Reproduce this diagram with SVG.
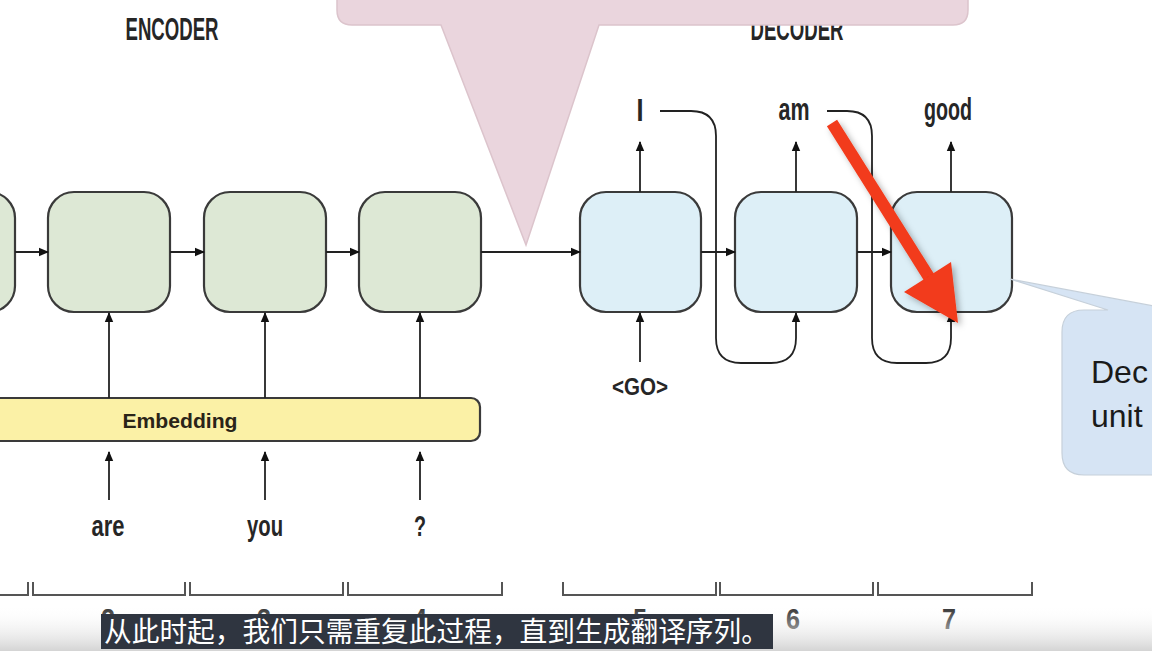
<svg xmlns="http://www.w3.org/2000/svg" width="1152" height="651" viewBox="0 0 1152 651">
<defs>
<style>
.enc{fill:#dde8d5;stroke:#3a3a3a;stroke-width:2.2}
.dec{fill:#ddeff7;stroke:#3a3a3a;stroke-width:2.2}
.ln{fill:none;stroke:#222;stroke-width:1.8}
.lbl{font-family:"Liberation Sans Narrow","Liberation Sans",sans-serif;fill:#262626;text-anchor:middle;font-weight:bold}
.num{font-family:"Liberation Sans Narrow","Liberation Sans",sans-serif;fill:#2a2a2a;text-anchor:middle;font-size:30px;font-weight:bold}
.brk{fill:none;stroke:#555;stroke-width:2}
</style>
<marker id="ah" markerUnits="userSpaceOnUse" markerWidth="10" markerHeight="10" viewBox="0 0 10 10" refX="9" refY="5" orient="auto">
<path d="M0,0.8 L10,5 L0,9.2 Z" fill="#111"/>
</marker>
<linearGradient id="fade" x1="0" y1="0" x2="0" y2="1">
<stop offset="0" stop-color="#ffffff" stop-opacity="0"/>
<stop offset="1" stop-color="#d4d4d4" stop-opacity="1"/>
</linearGradient>
<filter id="sh" x="-20%" y="-20%" width="140%" height="140%">
<feDropShadow dx="3" dy="3" stdDeviation="3" flood-color="#000" flood-opacity="0.3"/>
</filter>
</defs>
<rect width="1152" height="651" fill="#fff"/>

<g id="titles">
<text class="lbl" x="172" y="40" font-size="32" textLength="93" lengthAdjust="spacingAndGlyphs">ENCODER</text>
<text class="lbl" x="797" y="40" font-size="32" textLength="93" lengthAdjust="spacingAndGlyphs">DECODER</text>
</g>

<g id="embedding">
<rect x="-20" y="398" width="500" height="43" rx="9" fill="#fbf1a6" stroke="#3a3a3a" stroke-width="2.2"/>
<text x="180" y="428" font-family="Liberation Sans,sans-serif" font-weight="bold" font-size="21" fill="#2a2418" text-anchor="middle" textLength="115" lengthAdjust="spacingAndGlyphs">Embedding</text>
</g>

<g id="enc1"><rect class="enc" x="-107" y="192" width="122" height="120" rx="26"/></g>
<g id="enc2"><rect class="enc" x="48" y="192" width="122" height="120" rx="26"/></g>
<g id="enc3"><rect class="enc" x="204" y="192" width="122" height="120" rx="26"/></g>
<g id="enc4"><rect class="enc" x="359" y="192" width="122" height="120" rx="26"/></g>
<g id="dec5"><rect class="dec" x="580" y="192" width="121" height="120" rx="26"/></g>
<g id="dec6"><rect class="dec" x="735" y="192" width="122" height="120" rx="26"/></g>
<g id="dec7"><rect class="dec" x="891" y="192" width="121" height="120" rx="26"/></g>

<g id="connectors">
<line class="ln" x1="15" y1="252" x2="48" y2="252" marker-end="url(#ah)"/>
<line class="ln" x1="170" y1="252" x2="204" y2="252" marker-end="url(#ah)"/>
<line class="ln" x1="326" y1="252" x2="359" y2="252" marker-end="url(#ah)"/>
<line class="ln" x1="481" y1="252" x2="580" y2="252" marker-end="url(#ah)"/>
<line class="ln" x1="701" y1="252" x2="735" y2="252" marker-end="url(#ah)"/>
<line class="ln" x1="857" y1="252" x2="891" y2="252" marker-end="url(#ah)"/>
<line class="ln" x1="109" y1="398" x2="109" y2="313" marker-end="url(#ah)"/>
<line class="ln" x1="265" y1="398" x2="265" y2="313" marker-end="url(#ah)"/>
<line class="ln" x1="420" y1="398" x2="420" y2="313" marker-end="url(#ah)"/>
<line class="ln" x1="109" y1="500" x2="109" y2="452" marker-end="url(#ah)"/>
<line class="ln" x1="265" y1="500" x2="265" y2="452" marker-end="url(#ah)"/>
<line class="ln" x1="420" y1="500" x2="420" y2="452" marker-end="url(#ah)"/>
<line class="ln" x1="640" y1="192" x2="640" y2="142" marker-end="url(#ah)"/>
<line class="ln" x1="796" y1="192" x2="796" y2="142" marker-end="url(#ah)"/>
<line class="ln" x1="951" y1="192" x2="951" y2="142" marker-end="url(#ah)"/>
<line class="ln" x1="640" y1="362" x2="640" y2="313" marker-end="url(#ah)"/>
<path class="ln" d="M660 111 H691 Q716 111 716 136 V338 Q716 363 741 363 H771 Q796 363 796 338 V313" marker-end="url(#ah)"/>
<path class="ln" d="M827 111 H847 Q872 111 872 136 V338 Q872 363 897 363 H926 Q951 363 951 338 V313" marker-end="url(#ah)"/>
</g>

<g id="labels">
<text class="lbl" x="640" y="121" font-size="32" textLength="7" lengthAdjust="spacingAndGlyphs">I</text>
<text class="lbl" x="794" y="120" font-size="32" textLength="31" lengthAdjust="spacingAndGlyphs">am</text>
<text class="lbl" x="948" y="120" font-size="32" textLength="48" lengthAdjust="spacingAndGlyphs">good</text>
<text class="lbl" x="640" y="395" font-size="24" textLength="56" lengthAdjust="spacingAndGlyphs">&lt;GO&gt;</text>
<text class="lbl" x="108" y="536" font-size="30" textLength="33" lengthAdjust="spacingAndGlyphs">are</text>
<text class="lbl" x="265" y="536" font-size="30" textLength="36" lengthAdjust="spacingAndGlyphs">you</text>
<text class="lbl" x="420" y="536" font-size="30" textLength="12" lengthAdjust="spacingAndGlyphs">?</text>
</g>

<g id="callout-top">
<path d="M337 -20 H968 V10 Q968 25 953 25 H599 L526 245 L441 25 H352 Q337 25 337 10 Z" fill="#ead5dd" stroke="#dcc4cc" stroke-width="1.5"/>
</g>

<g id="red-arrow" filter="url(#sh)">
<line x1="832" y1="123" x2="932" y2="282" stroke="#f23a1a" stroke-width="12" stroke-linecap="butt"/>
<polygon points="958,323 904,292 951,262" fill="#f23a1a"/>
</g>

<g id="callout-right">
<path d="M1010 279 L1108 310 H1084 Q1062 310 1062 332 V453 Q1062 475 1084 475 H1180 V310 H1175 Z" fill="#d6e4f4" stroke="#c6d0da" stroke-width="1.2"/>
<text x="1091" y="383" font-family="Liberation Sans,sans-serif" font-size="32" fill="#1a1a1a">Dec</text>
<text x="1091" y="427" font-family="Liberation Sans,sans-serif" font-size="32" fill="#1a1a1a">unit</text>
</g>

<g id="timeline">
<path class="brk" d="M-5 595 H28 V582 M33 582 V595 H185 V582 M190 582 V595 H343 V582 M348 582 V595 H502 V582 M563 582 V595 H716 V582 M720 582 V595 H873 V582 M878 582 V595 H1032 V582"/>
<text class="num" x="108" y="629" textLength="14" lengthAdjust="spacingAndGlyphs">2</text>
<text class="num" x="264" y="629" textLength="14" lengthAdjust="spacingAndGlyphs">3</text>
<text class="num" x="420" y="629" textLength="14" lengthAdjust="spacingAndGlyphs">4</text>
<text class="num" x="640" y="629" textLength="14" lengthAdjust="spacingAndGlyphs">5</text>
<text class="num" x="793" y="629" textLength="14" lengthAdjust="spacingAndGlyphs">6</text>
<text class="num" x="949" y="629" textLength="14" lengthAdjust="spacingAndGlyphs">7</text>
</g>

<rect x="0" y="605" width="1152" height="46" fill="url(#fade)"/>

<g id="subtitle">
<rect x="101" y="614" width="672" height="35" fill="#2f3540"/>
<text x="104" y="642" font-family="Noto Sans CJK SC,sans-serif" font-size="28" fill="#fff" textLength="665" lengthAdjust="spacingAndGlyphs">从此时起，我们只需重复此过程，直到生成翻译序列。</text>
</g>
</svg>
